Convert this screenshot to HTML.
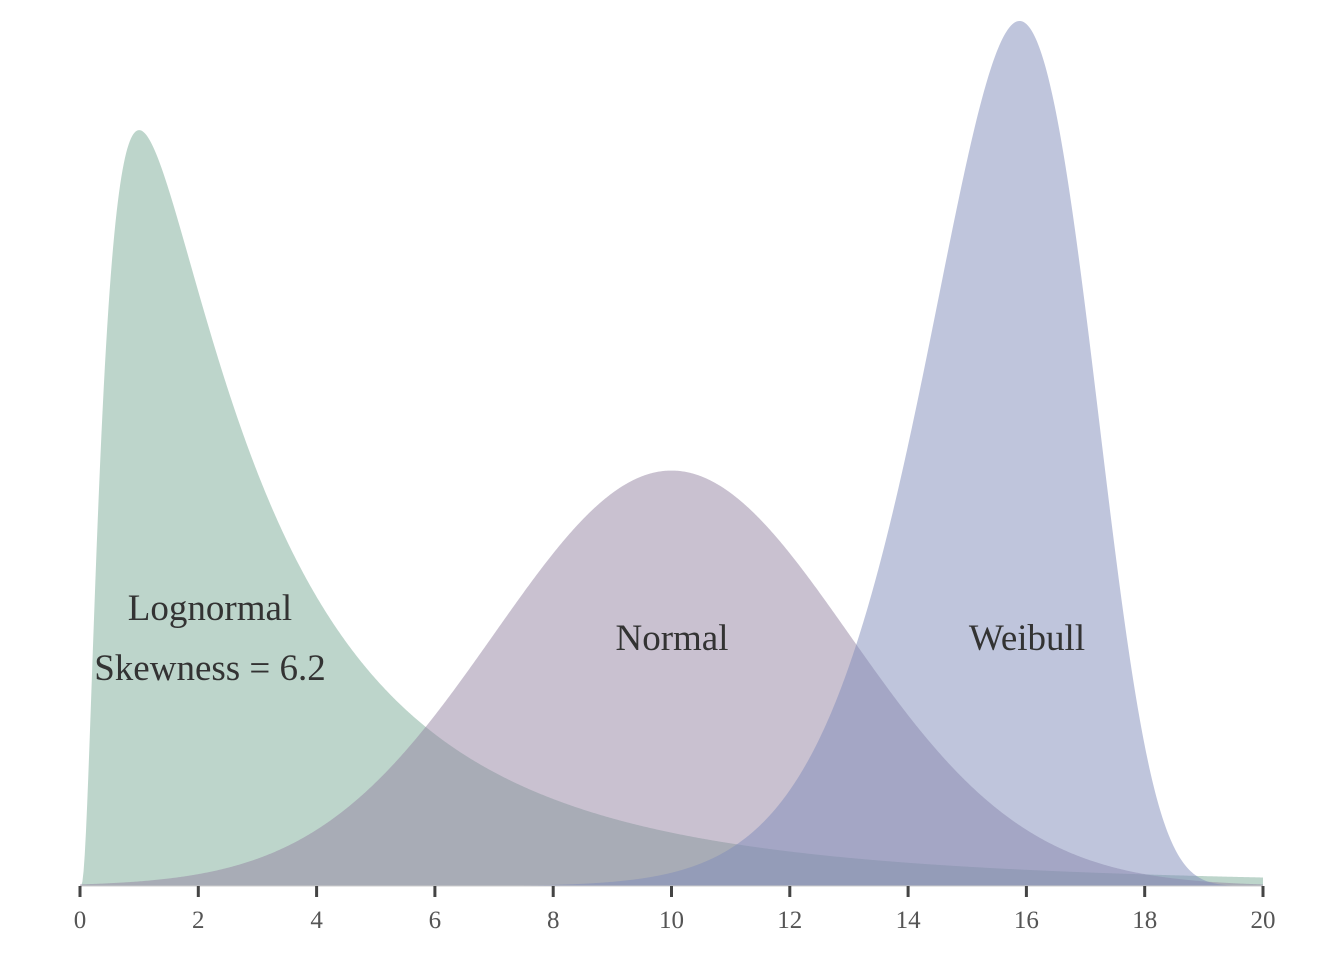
<!DOCTYPE html>
<html><head><meta charset="utf-8"><style>
html,body{margin:0;padding:0;background:#fff;}
svg{display:block;font-family:"Liberation Serif",serif;}
</style></head><body>
<svg id="chart" width="1344" height="960">
<g id="areas"></g>
<g id="axis"></g>
<g id="labels">
<text x="210" y="620" text-anchor="middle" font-size="37" fill="#333">Lognormal</text>
<text x="210" y="680" text-anchor="middle" font-size="37" fill="#333">Skewness =  6.2</text>
<text x="672" y="650" text-anchor="middle" font-size="37" fill="#333">Normal</text>
<text x="1027" y="650" text-anchor="middle" font-size="37" fill="#333">Weibull</text>
</g>
</svg>
<script>
const seriesNames = ["lognormal","normal","weibull"];
const seriesColors = ["rgba(123,172,151,0.5)","rgba(147,131,161,0.5)","rgba(127,139,185,0.5)"];
const lognormalParams = [1, 1];   // mu, sigma
const normalParams = [10, 3];     // mean, sd
const weibullParams = [12, 16];   // shape, scale
const xTicks = [0,2,4,6,8,10,12,14,16,18,20];

const X0=80, X1=1263, Y0=886, yScalePx=3124;
const xs = v => X0 + (v-0)/(20-0)*(X1-X0);
const ys = d => Y0 - d*yScalePx;

function dens(name,x){
  if(name==="lognormal"){ if(x<=0) return 0; const [m,s]=lognormalParams; const z=(Math.log(x)-m)/s; return Math.exp(-z*z/2)/(x*s*Math.sqrt(2*Math.PI)); }
  if(name==="normal"){ const [m,s]=normalParams; const z=(x-m)/s; return Math.exp(-z*z/2)/(s*Math.sqrt(2*Math.PI)); }
  if(name==="weibull"){ if(x<=0) return 0; const [k,l]=weibullParams; const r=x/l; return (k/l)*Math.pow(r,k-1)*Math.exp(-Math.pow(r,k)); }
}
const NS="http://www.w3.org/2000/svg";
const areas=document.getElementById("areas");
seriesNames.forEach((n,i)=>{
  let d="M"+xs(0)+","+Y0;
  for(let j=0;j<=1000;j++){const x=j*20/1000; d+=" L"+xs(x).toFixed(2)+","+ys(dens(n,x)).toFixed(2);}
  d+=" L"+xs(20)+","+Y0+" Z";
  const p=document.createElementNS(NS,"path");
  p.setAttribute("d",d); p.setAttribute("fill",seriesColors[i]);
  
  
  areas.appendChild(p);
});
const axis=document.getElementById("axis");
const line=document.createElementNS(NS,"line");
line.setAttribute("x1",X0);line.setAttribute("x2",X1);line.setAttribute("y1",Y0);line.setAttribute("y2",Y0);
line.setAttribute("stroke","#ccc");line.setAttribute("stroke-width","1");


axis.appendChild(line);
xTicks.forEach(t=>{
  const tk=document.createElementNS(NS,"line");
  tk.setAttribute("x1",xs(t));tk.setAttribute("x2",xs(t));tk.setAttribute("y1",Y0);tk.setAttribute("y2",Y0+11);
  tk.setAttribute("stroke","#444");tk.setAttribute("stroke-width","3");
  
  
  axis.appendChild(tk);
  const tx=document.createElementNS(NS,"text");
  tx.setAttribute("x",xs(t));tx.setAttribute("y",928);tx.setAttribute("text-anchor","middle");
  tx.setAttribute("font-size","25");tx.setAttribute("fill","#555");
  tx.textContent=t;
  
  
  axis.appendChild(tx);
});
</script>
</body></html>
